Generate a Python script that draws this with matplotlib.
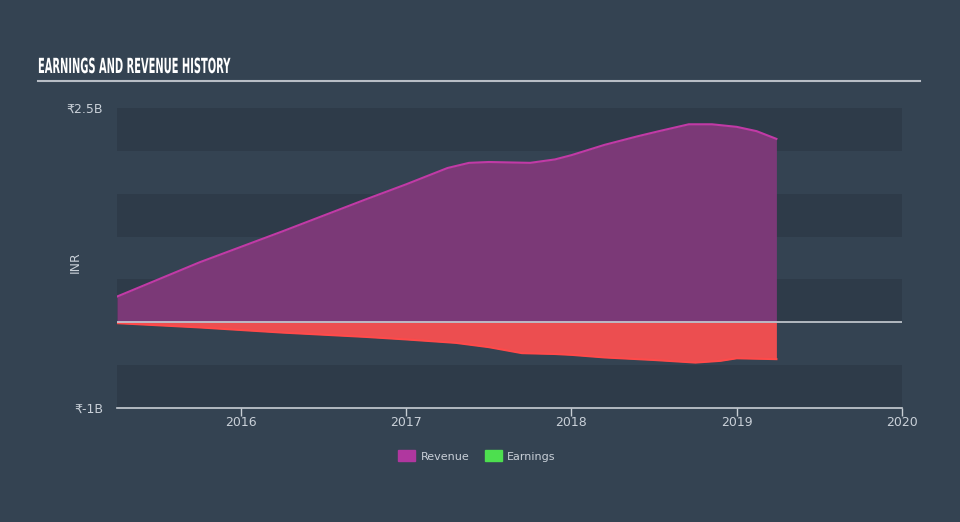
import matplotlib
matplotlib.use("Agg")
import matplotlib.pyplot as plt
import matplotlib.patches as mpatches
from matplotlib.patheffects import AbstractPathEffect
from matplotlib.transforms import Affine2D
import numpy as np

# data (years as decimal, values in billions INR)
rev_t = [2015.25, 2015.75, 2016.25, 2016.75, 2017.0, 2017.25, 2017.38, 2017.5, 2017.75, 2017.9,
         2018.0, 2018.2, 2018.4, 2018.53, 2018.71, 2018.85, 2019.0, 2019.12, 2019.24]
rev_v = [0.30, 0.70, 1.06, 1.43, 1.61, 1.80, 1.86, 1.87, 1.86, 1.90,
         1.95, 2.07, 2.17, 2.23, 2.31, 2.31, 2.28, 2.23, 2.14]
earn_t = [2015.25, 2015.75, 2016.25, 2016.75, 2017.0, 2017.3, 2017.5, 2017.7, 2017.9,
          2018.0, 2018.2, 2018.5, 2018.75, 2018.9, 2019.0, 2019.24]
earn_v = [-0.01, -0.06, -0.12, -0.17, -0.20, -0.24, -0.29, -0.36, -0.37,
          -0.38, -0.41, -0.44, -0.47, -0.45, -0.42, -0.43]
y_ticks = [-1.0, 2.5]
y_tick_labels = ["₹-1B", "₹2.5B"]
x_ticks = [2016, 2017, 2018, 2019, 2020]

BG = "#344352"
BAND = "#2e3b49"
TXT = "#c9d0d8"


class Condense(AbstractPathEffect):
    """Squeeze text horizontally around its anchor (condensed look)."""
    def __init__(self, sx):
        super().__init__()
        self.sx = sx

    def draw_path(self, renderer, gc, tpath, affine, rgbFace=None):
        m = affine.get_matrix()
        tx, ty = m[0, 2], m[1, 2]
        new = affine + Affine2D().translate(-tx, -ty).scale(self.sx, 1.0).translate(tx, ty)
        renderer.draw_path(gc, tpath, new, rgbFace)


fig = plt.figure(figsize=(9.6, 5.22), dpi=100, facecolor=BG)
ax = fig.add_axes([117/960, 1-408/522, (902-117)/960, 300/522])
ax.set_facecolor(BG)
ax.set_xlim(2015.25, 2020.0)
ax.set_ylim(-1.0, 2.5)

# alternating bands
for lo in [-1.0, 0.0, 1.0, 2.0]:
    ax.axhspan(lo, lo + 0.5, color=BAND, zorder=0, lw=0)

ax.fill_between(rev_t, 0, rev_v, color="#7b3977", zorder=2, lw=0)
ax.plot(rev_t, rev_v, color="#c13aa6", lw=1.5, zorder=3)
ax.fill_between(earn_t, 0, earn_v, color="#ec4e50", zorder=2, lw=0)
ax.plot(earn_t, earn_v, color="#ff4a4a", lw=1.5, zorder=3)
ax.axhline(0, color="#c8ced4", lw=1.2, zorder=4)

for s in ["top", "right", "left"]:
    ax.spines[s].set_visible(False)
ax.spines["bottom"].set_color("#c8ced4")
ax.spines["bottom"].set_linewidth(1.2)

ax.set_xticks(x_ticks)
ax.set_xticklabels([str(x) for x in x_ticks])
ax.tick_params(axis="x", colors="#c8ced4", labelcolor=TXT, labelsize=9, length=6, width=1, pad=0)
ax.set_yticks(y_ticks)
ax.set_yticklabels(y_tick_labels)
ax.tick_params(axis="y", length=0, labelcolor=TXT, labelsize=9, pad=10)

fig.text(75/960, 1-262/522, "INR", rotation=90, color=TXT, fontsize=9, ha="center", va="center")

fig.text(38/960, 1-67/522, "EARNINGS AND REVENUE HISTORY", color="white", fontsize=15,
         fontweight="bold", ha="left", va="center", path_effects=[Condense(0.475)])
fig.add_artist(plt.Line2D([38/960, 920/960], [1-81/522, 1-81/522], color="#b8bec6", lw=1.5))

handles = [mpatches.Patch(color="#b0379f", label="Revenue"),
           mpatches.Patch(color="#4ddf4f", label="Earnings")]
fig.legend(handles=handles, loc="center", bbox_to_anchor=(477/960, 1-456/522), ncol=2,
           frameon=False, labelcolor=TXT, fontsize=8, handlelength=1.5, handleheight=1.1,
           columnspacing=1.4, handletextpad=0.5)

fig.savefig("out.png", dpi=100, facecolor=BG)
